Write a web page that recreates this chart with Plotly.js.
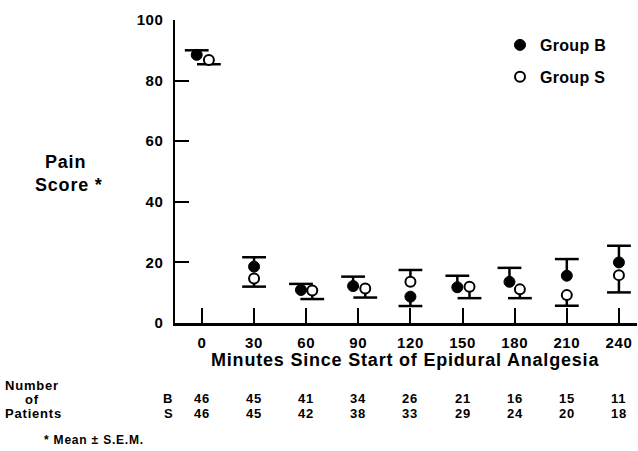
<!DOCTYPE html>
<html><head><meta charset="utf-8">
<script src="https://cdn.plot.ly/plotly-3.0.1.min.js"></script>
<style>
html,body{margin:0;padding:0;background:#fff}
#chart{width:638px;height:451px}
.annotation-text{letter-spacing:0.8px}
.legendtext{letter-spacing:0.3px}
.xtick text,.ytick text{letter-spacing:0.6px}
</style></head><body><div id="chart"></div>
<script>
// ---- data ----
var minutes = [0, 30, 60, 90, 120, 150, 180, 210, 240];
var xB = [-3, 30, 57, 87, 120, 147, 177, 210, 240];
var xS = [4, 30, 63.5, 94, 120, 154, 183, 210, 240];
var meanB = [88.5, 18.6, 10.9, 12.2, 8.7, 11.8, 13.6, 15.6, 20.0];
var semUpB = [1.5, 3.1, 2.0, 3.1, 0, 3.8, 4.6, 5.5, 5.5];
var semLoB = [0, 0, 0, 0, 3.1, 0, 0, 0, 0];
var meanS = [86.8, 14.7, 10.7, 11.4, 13.6, 12.0, 11.1, 9.2, 15.8];
var semUpS = [0, 0, 0, 0, 3.9, 0, 0, 0, 0];
var semLoS = [1.4, 2.7, 2.8, 3.0, 0, 3.8, 2.9, 3.5, 5.7];
var nB = [46, 45, 41, 34, 26, 21, 16, 15, 11];
var nS = [46, 45, 42, 38, 33, 29, 24, 20, 18];
var yTicks = [0, 20, 40, 60, 80, 100];

var FONT = 'Liberation Sans, Arial, Helvetica, sans-serif';
var capB = meanB.map(function(v, i){ return v + semUpB[i] - semLoB[i]; });
var capS = meanS.map(function(v, i){ return v + semUpS[i] - semLoS[i]; });

function capTrace(x, y){
  return {x: x, y: y, type: 'scatter', mode: 'markers', showlegend: false, hoverinfo: 'skip',
    marker: {symbol: 'line-ew', size: 17, color: '#000', line: {color: '#000', width: 2.5}}};
}
var traces = [
  capTrace(xB, capB),
  capTrace(xS, capS),
  {x: xB, y: meanB, type: 'scatter', mode: 'markers', name: 'Group B', legendgroup: 'B',
    marker: {symbol: 'circle', size: 11, color: '#000', line: {color: '#000', width: 1}},
    error_y: {type: 'data', symmetric: false, array: semUpB, arrayminus: semLoB, width: 0, thickness: 2.5, color: '#000'}},
  {x: xS, y: meanS, type: 'scatter', mode: 'markers', name: 'Group S', legendgroup: 'S',
    marker: {symbol: 'circle', size: 10, color: '#fff', line: {color: '#000', width: 2}},
    error_y: {type: 'data', symmetric: false, array: semUpS, arrayminus: semLoS, width: 0, thickness: 2.5, color: '#000'}}
];

// paper-coordinate helpers (plot area: x 175..637, y 20..323)
function px(p){ return (p - 175) / 462; }
function py(p){ return (323 - p) / 303; }

var ann = [];
function txt(text, x, y, xanchor, size, xref){
  ann.push({text: text, x: x, y: y, xref: xref || 'paper', yref: 'paper', xanchor: xanchor, yanchor: 'middle',
    showarrow: false, font: {family: FONT, size: size, color: '#000', weight: 'bold'}});
}
txt('Pain', px(65), py(162), 'center', 18);
txt('Score *', px(33), py(185), 'left', 18);
txt('Minutes Since Start of Epidural Analgesia', px(405), py(360), 'center', 18);
txt('Number', px(32), py(385), 'center', 13);
txt('of', px(32), py(399), 'center', 13);
txt('Patients', px(33), py(413), 'center', 13);
txt('B', px(168), py(398), 'center', 13);
txt('S', px(168), py(413), 'center', 13);
minutes.forEach(function(m, i){
  txt(String(nB[i]), m, py(398), 'center', 13, 'x');
  txt(String(nS[i]), m, py(413), 'center', 13, 'x');
});
txt('* Mean \u00b1 S.E.M.', px(42), py(440), 'left', 12);

var layout = {
  width: 638, height: 451,
  margin: {l: 175, r: 1, t: 20, b: 128},
  paper_bgcolor: '#fff', plot_bgcolor: '#fff',
  font: {family: FONT, color: '#000'},
  showlegend: true,
  legend: {x: px(500), y: py(28), xanchor: 'left', yanchor: 'top', bgcolor: 'rgba(0,0,0,0)',
    traceorder: 'grouped', tracegroupgap: 8, font: {family: FONT, size: 16, color: '#000', weight: 'bold'}},
  xaxis: {range: [-15.5, 250.4], tickvals: minutes, ticktext: minutes.map(String),
    ticks: 'inside', ticklen: 15, tickwidth: 2, tickcolor: '#000',
    showline: true, linewidth: 2.5, linecolor: '#000', showgrid: false, zeroline: false,
    ticklabelstandoff: 4, tickfont: {family: FONT, size: 15, color: '#000', weight: 'bold'}},
  yaxis: {range: [0, 100], tickvals: yTicks, ticktext: yTicks.map(String),
    ticks: 'inside', ticklen: 14, tickwidth: 2, tickcolor: '#000',
    showline: true, linewidth: 2.5, linecolor: '#000', showgrid: false, zeroline: false,
    ticklabelstandoff: 6, tickfont: {family: FONT, size: 15, color: '#000', weight: 'bold'}},
  annotations: ann
};
Plotly.newPlot('chart', traces, layout, {displayModeBar: false, staticPlot: true});
</script></body></html>
